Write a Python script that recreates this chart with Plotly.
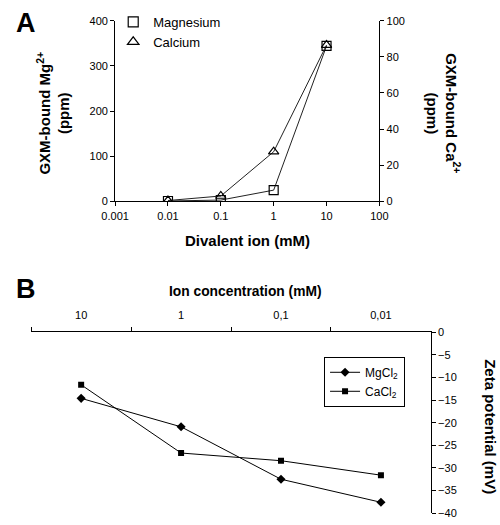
import plotly.graph_objects as go

# ---- Panel A data ----
conc_A = [0.01, 0.1, 1, 10]
mg_ppm = [1, 3, 25, 344]
ca_ppm = [0.5, 3, 27.5, 86.5]
a_tickvals = [0.001, 0.01, 0.1, 1, 10, 100]
a_ticktext = ["0.001", "0.01", "0.1", "1", "10", "100"]

# ---- Panel B data ----
conc_B = ["10", "1", "0,1", "0,01"]
mgcl2 = [-14.6, -20.9, -32.5, -37.6]
cacl2 = [-11.6, -26.7, -28.4, -31.6]

FONT = "Liberation Sans, Arial, sans-serif"
W, H = 500, 525

def px(x):
    return x / W

def py(y):
    return 1 - y / H

fig = go.Figure()

# Panel A traces
fig.add_trace(go.Scatter(x=conc_A, y=mg_ppm, mode="lines+markers",
                         line=dict(color="#222", width=1),
                         marker=dict(symbol="square-open", size=9, color="black", line=dict(width=1.2)),
                         xaxis="x", yaxis="y", showlegend=False))
fig.add_trace(go.Scatter(x=conc_A, y=ca_ppm, mode="lines+markers",
                         line=dict(color="#222", width=1),
                         marker=dict(symbol="triangle-up-open", size=9, color="black", line=dict(width=1.2)),
                         xaxis="x", yaxis="y2", showlegend=False))
# legend-only entries for panel A
fig.add_trace(go.Scatter(x=[None], y=[None], mode="markers", name="Magnesium",
                         marker=dict(symbol="square-open", size=10, color="black", line=dict(width=1.2)),
                         xaxis="x", yaxis="y", legend="legend"))
fig.add_trace(go.Scatter(x=[None], y=[None], mode="markers", name="Calcium",
                         marker=dict(symbol="triangle-up-open", size=10, color="black", line=dict(width=1.2)),
                         xaxis="x", yaxis="y", legend="legend"))

# Panel B traces
fig.add_trace(go.Scatter(x=conc_B, y=mgcl2, mode="lines+markers", name="MgCl<sub>2</sub>",
                         line=dict(color="black", width=1),
                         marker=dict(symbol="diamond", size=7, color="black"),
                         xaxis="x3", yaxis="y3", legend="legend2"))
fig.add_trace(go.Scatter(x=conc_B, y=cacl2, mode="lines+markers", name="CaCl<sub>2</sub>",
                         line=dict(color="black", width=1),
                         marker=dict(symbol="square", size=6, color="black"),
                         xaxis="x3", yaxis="y3", legend="legend2"))

axis_common = dict(showgrid=False, zeroline=False, showline=True, linecolor="black",
                   linewidth=1, ticks="outside", ticklen=4, tickcolor="black",
                   tickfont=dict(family=FONT, size=11, color="black"))

def title_ann(text, x, y, angle=0, size=15):
    return dict(text=text, x=px(x), y=py(y), xref="paper", yref="paper",
                xanchor="center", yanchor="middle", textangle=angle,
                showarrow=False, font=dict(size=size, family=FONT, color="black"))

fig.update_layout(
    width=W, height=H,
    margin=dict(l=0, r=0, t=0, b=0),
    paper_bgcolor="white", plot_bgcolor="white",
    font=dict(family=FONT, color="black"),
    xaxis=dict(axis_common, type="log", range=[-3, 2], domain=[px(106), px(383)],
               tickmode="array", tickvals=a_tickvals, ticktext=a_ticktext, anchor="y"),
    yaxis=dict(axis_common, range=[0, 400], dtick=100, domain=[py(200), py(15)], anchor="x"),
    yaxis2=dict(axis_common, range=[0, 100], dtick=20, overlaying="y", side="right", anchor="x"),
    xaxis3=dict(axis_common, type="category", range=[-0.5, 3.5], domain=[px(18), px(437)],
                side="top", anchor="y3", tickson="boundaries", ticklen=4,
                ticklabelstandoff=8),
    yaxis3=dict(axis_common, range=[-40, 0], dtick=5, domain=[py(519), py(334)],
                side="right", anchor="x3"),
    legend=dict(x=px(104), y=py(1), xanchor="left", yanchor="top",
                bgcolor="rgba(0,0,0,0)", font=dict(family=FONT, size=13, color="black"),
                tracegroupgap=0, itemwidth=30),
    legend2=dict(x=px(325), y=py(359), xanchor="left", yanchor="top",
                 bgcolor="white", bordercolor="black", borderwidth=1,
                 font=dict(family=FONT, size=12, color="black"), itemwidth=30),
    annotations=[
        dict(text="<b>A</b>", x=px(0), y=py(0), xref="paper", yref="paper",
             xanchor="left", yanchor="top", showarrow=False, font=dict(size=27, family=FONT)),
        dict(text="<b>B</b>", x=px(0), y=py(272), xref="paper", yref="paper",
             xanchor="left", yanchor="top", showarrow=False, font=dict(size=27, family=FONT)),
        title_ann("<b>GXM-bound Mg<sup>2+</sup><br>(ppm)</b>", 41, 110, -90),
        title_ann("<b>GXM-bound Ca<sup>2+</sup><br>(ppm)</b>", 450, 110, 90),
        title_ann("<b>Divalent ion (mM)</b>", 245, 240),
        title_ann("<b>Ion concentration (mM)</b>", 243, 292, 0, 13.8),
        title_ann("<b>Zeta potential (mV)</b>", 500, 430, 90),
    ],
)

fig.write_html("out.html", config={"displayModeBar": False},
               post_script="document.body.style.margin='0';")
